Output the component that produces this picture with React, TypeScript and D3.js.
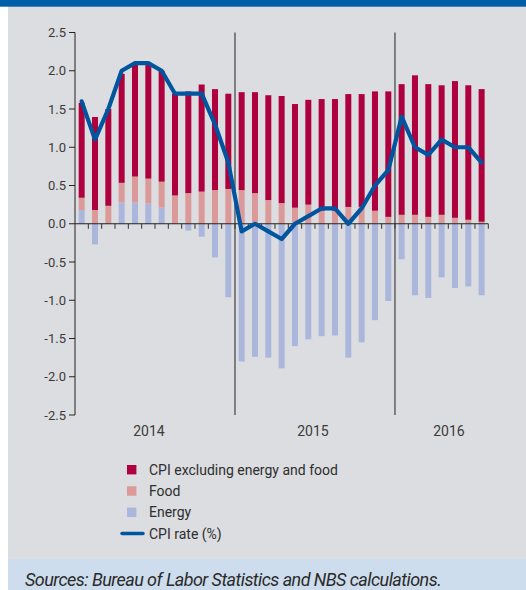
import * as d3 from 'd3';

// monthly data, Jan 2014 - Jul 2016
const months = d3.range(31).map(i => `${2014 + Math.floor(i / 12)}-${(i % 12) + 1}`);

const energy = [
  0.18, -0.27, 0.0, 0.28, 0.28, 0.265, 0.21, 0.0, -0.09, -0.17, -0.44, -0.96,
  -1.80, -1.74, -1.75, -1.89, -1.60, -1.51, -1.47, -1.46, -1.75, -1.55, -1.26, -1.01,
  -0.465, -0.935, -0.97, -0.70, -0.84, -0.82, -0.935,
];
const food = [
  0.16, 0.18, 0.235, 0.255, 0.337, 0.325, 0.34, 0.37, 0.40, 0.42, 0.44, 0.455,
  0.44, 0.40, 0.31, 0.27, 0.21, 0.25, 0.17, 0.17, 0.22, 0.22, 0.17, 0.09,
  0.117, 0.117, 0.09, 0.117, 0.078, 0.052, 0.026,
];
const core = [
  1.24, 1.215, 1.265, 1.425, 1.48, 1.49, 1.45, 1.33, 1.33, 1.40, 1.32, 1.245,
  1.28, 1.32, 1.37, 1.40, 1.355, 1.37, 1.46, 1.46, 1.475, 1.475, 1.56, 1.64,
  1.708, 1.823, 1.735, 1.693, 1.787, 1.758, 1.734,
];
const cpiRate = [
  1.6, 1.1, 1.5, 2.0, 2.1, 2.1, 2.0, 1.7, 1.7, 1.7, 1.3, 0.8,
  -0.1, 0.0, -0.1, -0.2, 0.0, 0.1, 0.2, 0.2, 0.0, 0.2, 0.5, 0.7,
  1.4, 1.0, 0.9, 1.1, 1.0, 1.0, 0.8,
];

const yTicks = [2.5, 2.0, 1.5, 1.0, 0.5, 0.0, -0.5, -1.0, -1.5, -2.0, -2.5];
const yearLabels = ['2014', '2015', '2016'];
const yearLabelAt = [5.55, 17.85, 28.05]; // in months from start
const yearBreaks = [12, 24];

const seriesKeys = ['energy', 'food', 'core'] as const;
const seriesNames = ['CPI excluding energy and food', 'Food', 'Energy'];
const colors: Record<string, string> = {
  core: '#ad003d',
  food: '#dc999a',
  energy: '#abb6dc',
  line: '#00559e',
};

const W = 526;
const H = 590;
const FONT = 'Roboto, "Open Sans", sans-serif';

export default function App() {
  const rows = months.map((m, i) => ({ m, energy: energy[i], food: food[i], core: core[i] }));

  const x = d3.scaleBand<string>().domain(months).range([75, 488.3]).paddingInner(0.55).paddingOuter(0.275);
  const xm = d3.scaleLinear().domain([0, months.length]).range([75, 488.3]);
  const y = d3.scaleLinear().domain([-2.5, 2.5]).range([415, 32.5]);

  const stacked = d3.stack<any>()
    .keys(seriesKeys as unknown as string[])
    .offset(d3.stackOffsetDiverging)(rows);

  const line = d3.line<number>()
    .x((_, i) => x(months[i])! + x.bandwidth() / 2)
    .y(d => y(d));

  const legendKeys = ['core', 'food', 'energy'];
  const legendY = [469.7, 491, 512.3];

  return (
    <svg width={W} height={H} style={{ position: 'absolute', left: 0, top: 0 }} fontFamily={FONT}>
      <rect x={0} y={0} width={W} height={H} fill="#fff" />
      <rect x={8} y={6} width={W - 8} height={553} fill="#dcdde0" />
      <rect x={0} y={0} width={W} height={6.7} fill="#005ea9" />
      <rect x={8} y={559} width={W - 8} height={31} fill="#cedded" />

      {/* bars */}
      {stacked.map(s => (
        <g key={s.key} fill={colors[s.key]}>
          {s.map((d, i) => {
            const y0 = y(d[0]);
            const y1 = y(d[1]);
            return (
              <rect
                key={i}
                x={x(months[i])}
                width={x.bandwidth()}
                y={Math.min(y0, y1)}
                height={Math.abs(y0 - y1)}
              />
            );
          })}
        </g>
      ))}

      {/* year separators */}
      {yearBreaks.map(b => (
        <line key={b} x1={xm(b)} x2={xm(b)} y1={y(2.5)} y2={y(-2.5)} stroke="#222" strokeWidth={1} />
      ))}

      {/* zero line and month ticks */}
      <line x1={xm(0)} x2={xm(months.length)} y1={y(0)} y2={y(0)} stroke="#222" strokeWidth={1} />
      {d3.range(1, months.length + 1).map(i => (
        <line key={i} x1={xm(i)} x2={xm(i)} y1={y(0)} y2={y(0) + 5} stroke="#333" strokeWidth={1} />
      ))}

      {/* y axis */}
      <line x1={75} x2={75} y1={y(2.5)} y2={y(-2.5)} stroke="#222" strokeWidth={1} />
      {yTicks.map(t => (
        <g key={t} transform={`translate(0,${y(t)})`}>
          <line x1={69} x2={75} stroke="#222" strokeWidth={1} />
          <text x={66} dy="0.35em" textAnchor="end" fontSize={13} fill="#3b3b3b">
            {t.toFixed(1)}
          </text>
        </g>
      ))}

      {/* year labels */}
      {yearLabels.map((l, i) => (
        <text key={l} x={xm(yearLabelAt[i])} y={435.5} textAnchor="middle" fontSize={14} fill="#3b3b3b">
          {l}
        </text>
      ))}

      {/* CPI line */}
      <path d={line(cpiRate) ?? ''} fill="none" stroke={colors.line} strokeWidth={4.2} strokeLinejoin="round" strokeLinecap="round" />

      {/* legend */}
      {legendKeys.map((k, i) => (
        <g key={k}>
          <rect x={127} y={legendY[i] - 4.7} width={9.4} height={9.4} fill={colors[k]} />
          <text x={149} y={legendY[i]} dy="0.36em" fontSize={14} fill="#2e2e2e">
            {seriesNames[i]}
          </text>
        </g>
      ))}
      <line x1={122} x2={143} y1={533.5} y2={533.5} stroke={colors.line} strokeWidth={3.5} strokeLinecap="round" />
      <text x={149} y={533.5} dy="0.36em" fontSize={14} fill="#2e2e2e">
        CPI rate (%)
      </text>

      <text x={25} y={586} fontSize={18} fontStyle="italic" letterSpacing={-0.55} fill="#2a2a2a">
        Sources: Bureau of Labor Statistics and NBS calculations.
      </text>
    </svg>
  );
}
